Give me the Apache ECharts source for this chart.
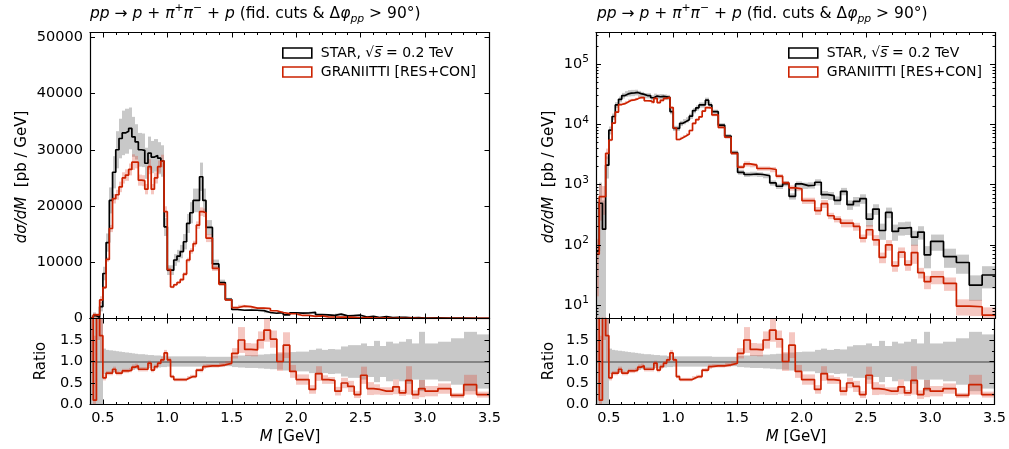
<!DOCTYPE html>
<html><head><meta charset="utf-8">
<script src="https://cdn.jsdelivr.net/npm/echarts@6/dist/echarts.min.js"></script>
<style>html,body{margin:0;padding:0;background:#fff;}#c{width:1009px;height:449px;}</style>
</head><body><div id="c"></div>
<script>
// ---------------- data ----------------
const massEdges = [0.400,0.425,0.450,0.475,0.500,0.525,0.550,0.575,0.600,0.625,0.650,0.675,0.700,0.725,0.750,0.775,0.800,0.825,0.850,0.875,0.900,0.925,0.950,0.975,1.000,1.025,1.050,1.075,1.100,1.125,1.150,1.175,1.200,1.225,1.250,1.275,1.300,1.350,1.400,1.450,1.500,1.550,1.600,1.650,1.700,1.750,1.800,1.850,1.900,1.950,2.000,2.050,2.100,2.150,2.200,2.250,2.300,2.350,2.400,2.450,2.500,2.550,2.600,2.650,2.700,2.750,2.800,2.850,2.900,2.950,3.000,3.100,3.200,3.300,3.400,3.500];

const starVals = [78,490,182,2100,
  8000,13500,21000,26000,30000,32000,33000,33300,33800,32300,31400,30000,29900,27600,29400,28700,29000,28500,28000,16300,
  8600,8600,10400,11100,11900,13650,16900,18800,21000,21000,25200,21000,
  16200,9700,6400,3400,1600,1470,1500,1470,1400,1066,938,1040,640,1026,
  962,975,1094,681,656,548,774,464,528,585,268,393,173,346,167,190,194,134,163,68,
  114,64,51,21.5,31.6];

const granVals = [70,630,630,3300,
  5500,10500,16000,21300,22000,23400,25000,25500,26500,27800,27800,24600,24500,23000,27000,23000,25000,27000,28000,19000,
  8700,5600,6000,6400,6900,7900,10400,12000,13300,16600,19000,18800,
  14300,8900,6100,3300,1950,2210,2100,1850,1850,1780,1380,1066,880,847,
  541,541,369,482,304,268,230,230,202,129,178,121,62,100,44.7,75.5,46.4,74.5,34.6,24.5,
  29.6,23,9.6,9.4,6.8];

// relative uncertainties in the upper panels
const starErr = [6,1.2,2.0,0.4,
  0.15,0.12,0.11,0.11,0.11,0.11,0.12,0.12,0.11,0.11,0.10,0.10,0.10,0.10,0.10,0.10,0.10,0.10,0.10,0.10,
  0.10,0.10,0.10,0.10,0.10,0.10,0.10,0.10,0.10,0.10,0.10,0.10,
  0.08,0.08,0.08,0.08,0.09,0.09,0.09,0.09,0.09,0.10,0.10,0.10,0.12,0.10,
  0.12,0.12,0.12,0.15,0.15,0.16,0.14,0.18,0.18,0.18,0.25,0.20,0.30,0.20,0.30,0.25,0.25,0.28,0.25,0.40,
  0.30,0.35,0.35,0.45,0.40];

const granErr = [0.8,0.6,0.5,0.2,
  0.05,0.04,0.04,0.04,0.04,0.04,0.04,0.04,0.04,0.05,0.04,0.04,0.04,0.04,0.05,0.04,0.04,0.04,0.04,0.05,
  0.04,0.04,0.04,0.04,0.04,0.04,0.04,0.04,0.04,0.04,0.04,0.04,
  0.05,0.05,0.05,0.05,0.08,0.10,0.08,0.08,0.08,0.10,0.08,0.08,0.10,0.08,
  0.12,0.12,0.15,0.15,0.12,0.12,0.15,0.15,0.15,0.15,0.20,0.20,0.20,0.20,0.20,0.20,0.20,0.35,0.20,0.25,
  0.25,0.25,0.30,0.30,0.35];

// ratio panel
const ratioVals = [2.5,0.1,3.0,1.6,
  0.62,0.73,0.73,0.82,0.73,0.73,0.78,0.78,0.80,0.87,0.90,0.82,0.82,0.82,0.96,0.80,0.88,0.96,1.04,1.20,
  1.04,0.65,0.58,0.58,0.58,0.58,0.62,0.65,0.65,0.80,0.80,0.88,
  0.90,0.90,0.92,0.96,1.19,1.50,1.28,1.27,1.50,1.73,1.52,1.00,1.38,0.77,
  0.58,0.58,0.35,0.72,0.58,0.56,0.31,0.50,0.42,0.23,0.68,0.37,0.35,0.31,0.31,0.41,0.27,0.56,0.23,0.37,
  0.31,0.37,0.21,0.46,0.23];

const ratioStarErr = [1.5,1.5,1.5,1.5,
  0.30,0.27,0.26,0.25,0.24,0.23,0.22,0.21,0.20,0.19,0.18,0.17,0.17,0.16,0.15,0.15,0.14,0.14,0.13,0.13,
  0.12,0.12,0.12,0.12,0.12,0.12,0.12,0.12,0.12,0.12,0.12,0.12,
  0.11,0.11,0.11,0.11,0.13,0.14,0.15,0.15,0.16,0.17,0.18,0.19,0.21,0.22,
  0.23,0.23,0.27,0.30,0.27,0.29,0.28,0.35,0.38,0.38,0.42,0.36,0.48,0.36,0.46,0.42,0.46,0.52,0.42,0.69,
  0.42,0.46,0.54,0.69,0.63];

const ratioGranErr = [1.5,1.5,1.5,0.6,
  0.06,0.05,0.05,0.06,0.05,0.05,0.05,0.05,0.05,0.06,0.05,0.05,0.05,0.05,0.06,0.05,0.05,0.05,0.06,0.07,
  0.05,0.04,0.04,0.04,0.04,0.04,0.04,0.04,0.04,0.04,0.05,0.05,
  0.04,0.04,0.05,0.05,0.12,0.30,0.15,0.15,0.20,0.27,0.20,0.22,0.30,0.15,
  0.12,0.12,0.10,0.17,0.10,0.08,0.10,0.12,0.13,0.08,0.20,0.15,0.12,0.09,0.09,0.17,0.07,0.33,0.10,0.20,
  0.12,0.12,0.06,0.23,0.07];

const ratioRef = 1.0;

// tick values
const xMajorTicks = [0.5,1.0,1.5,2.0,2.5,3.0,3.5];
const xMinorTicks = [0.6,0.7,0.8,0.9,1.1,1.2,1.3,1.4,1.6,1.7,1.8,1.9,2.1,2.2,2.3,2.4,2.6,2.7,2.8,2.9,3.1,3.2,3.3,3.4];
const linYTicks = [0,10000,20000,30000,40000,50000];
const logMajorTicks = [10,100,1000,10000,100000];
const logMinorTicks = [7,8,9,20,30,40,50,60,70,80,90,200,300,400,500,600,700,800,900,2000,3000,4000,5000,6000,7000,8000,9000,20000,30000,40000,50000,60000,70000,80000,90000,200000,300000];
const ratioMajorTicks = [0,0.5,1.0,1.5];
const ratioMinorTicks = [0.25,0.75,1.25,1.75];

// ---------------- chart ----------------
const FONT = 'DejaVu Sans';
const TICK_FS = 14.5, LABEL_FS = 15, TITLE_FS = 15.5, LEGEND_FS = 14;
const RED = '#cc2200', GRAY = '#c8c8c8', PINK = 'rgba(222,70,50,0.30)', REFGRAY = '#858585';

function stepLine(vals){
  const d = [];
  for (let i = 0; i < vals.length; i++){ d.push([massEdges[i], vals[i]]); d.push([massEdges[i+1], vals[i]]); }
  return d;
}
function bandRel(vals, err, floor){
  return vals.map((v,i)=>[massEdges[i], massEdges[i+1], Math.max(v*(1-err[i]), floor), v*(1+err[i])]);
}
function bandAbs(vals, err){
  return vals.map((v,i)=>[massEdges[i], massEdges[i+1], v-err[i], v+err[i]]);
}
function bandRef(err){
  return err.map((e,i)=>[massEdges[i], massEdges[i+1], ratioRef-e, ratioRef+e]);
}
function renderBand(color){
  return function(params, api){
    const a = api.coord([api.value(0), api.value(3)]);
    const b = api.coord([api.value(1), api.value(2)]);
    const cs = params.coordSys;
    const x0 = Math.round(a[0]), x1 = Math.round(b[0]);
    const r = echarts.graphic.clipRectByRect(
      {x:x0, y:a[1], width:x1-x0, height:b[1]-a[1]},
      {x:cs.x, y:cs.y, width:cs.width, height:cs.height});
    if (!r) return null;
    return {type:'rect', shape:r, style:{fill:color}};
  };
}
function band(g, data, color, z, extra){
  return Object.assign({type:'custom', xAxisIndex:4*g, yAxisIndex:4*g, silent:true, z:z,
    data:data, encode:{x:[0,1], y:[2,3]}, renderItem:renderBand(color)}, extra||{});
}
function line(g, vals, color, z){
  return {type:'line', xAxisIndex:4*g, yAxisIndex:4*g, data:stepLine(vals), symbol:'none', silent:true, z:z,
    lineStyle:{color:color, width:1.7}, itemStyle:{color:color}, clip:true};
}

const grids = [
  {left:90, top:32.5, width:399.5, height:286},
  {left:90, top:318.5, width:399.5, height:86},
  {left:596, top:32.5, width:399, height:286},
  {left:596, top:318.5, width:399, height:86}
];

const yCfg = [
  {type:'value', min:0, max:50850, major:linYTicks, minor:null, fmt:v=>String(v)},
  {type:'value', min:0, max:2, major:ratioMajorTicks, minor:ratioMinorTicks, fmt:v=>v.toFixed(1)},
  {type:'log', min:6, max:334000, major:logMajorTicks, minor:logMinorTicks, fmt:v=>'{b|10}{sup|'+Math.round(Math.log10(v))+'}'},
  {type:'value', min:0, max:2, major:ratioMajorTicks, minor:ratioMinorTicks, fmt:v=>v.toFixed(1)}
];

const labelRich = {
  b:{fontFamily:FONT, fontSize:TICK_FS, color:'#000', lineHeight:20},
  sup:{fontFamily:FONT, fontSize:10.5, color:'#000', verticalAlign:'top', lineHeight:12}
};

const xAxes = [], yAxes = [];
for (let g = 0; g < 4; g++){
  const isRatio = (g % 2 === 1);
  [['bottom',true],['bottom',false],['top',true],['top',false]].forEach(([pos,maj])=>{
    xAxes.push({gridIndex:g, type:'value', min:0.4, max:3.5, position:pos, z:10,
      axisLine:{show:maj, onZero:false, lineStyle:{color:'#000', width:1.2}},
      axisTick:{show:true, inside:true, length:maj?5:2.5, customValues:maj?xMajorTicks:xMinorTicks, lineStyle:{color:'#000', width:1}},
      axisLabel:{show:(maj && pos==='bottom' && isRatio), customValues:xMajorTicks, formatter:v=>v.toFixed(1),
        margin:6, fontFamily:FONT, fontSize:TICK_FS, color:'#000'},
      splitLine:{show:false}});
  });
  const c = yCfg[g];
  [['left',true],['left',false],['right',true],['right',false]].forEach(([pos,maj])=>{
    const ticks = maj ? c.major : c.minor;
    yAxes.push({gridIndex:g, type:c.type, min:c.min, max:c.max, position:pos, z:10,
      axisLine:{show:maj, onZero:false, lineStyle:{color:'#000', width:1.2}},
      axisTick:{show:!!ticks, inside:true, length:maj?5:2.5, customValues:ticks||[], lineStyle:{color:'#000', width:1}},
      axisLabel:{show:(maj && pos==='left'), customValues:c.major, formatter:c.fmt, margin:7,
        fontFamily:FONT, fontSize:TICK_FS, color:'#000', rich:labelRich},
      splitLine:{show:false}});
  });
}

const series = [];
[0,2].forEach(g=>{
  const floor = (g===2) ? 0.01 : 0;
  series.push(band(g, bandRel(starVals, starErr, floor), GRAY, 1));
  series.push(band(g, bandRel(granVals, granErr, floor), PINK, 2));
  series.push(line(g, starVals, '#000', 3));
  series.push(line(g, granVals, RED, 4));
});
[1,3].forEach(g=>{
  series.push(band(g, bandRef(ratioStarErr), GRAY, 1, {
    markLine:{silent:true, symbol:'none', z:5, animation:false, label:{show:false},
      lineStyle:{color:REFGRAY, width:2.2, type:'solid'}, data:[{yAxis:ratioRef}]}}));
  series.push(band(g, bandAbs(ratioVals, ratioGranErr), PINK, 6));
  series.push(line(g, ratioVals, RED, 7));
});
// legend proxies
series.push({type:'custom', name:'STAR', xAxisIndex:0, yAxisIndex:0, data:[], renderItem:()=>null,
  itemStyle:{color:'#fff', borderColor:'#000', borderWidth:1.6}});
series.push({type:'custom', name:'GRANIITTI', xAxisIndex:0, yAxisIndex:0, data:[], renderItem:()=>null,
  itemStyle:{color:'#fff', borderColor:RED, borderWidth:1.6}});

const legends = [277, 783].map(left=>({
  left:left, top:41, orient:'vertical', itemWidth:29, itemHeight:10, itemGap:5, selectedMode:false,
  data:[
    {name:'STAR', icon:'rect', itemStyle:{color:'#fff', borderColor:'#000', borderWidth:1.6}},
    {name:'GRANIITTI', icon:'rect', itemStyle:{color:'#fff', borderColor:RED, borderWidth:1.6}}
  ],
  formatter:n=> n==='STAR' ? 'STAR, √{i|s\u0305} = 0.2 TeV' : 'GRANIITTI [RES+CON]',
  textStyle:{fontFamily:FONT, fontSize:LEGEND_FS, color:'#000', padding:[0,0,0,4],
    rich:{i:{fontFamily:FONT, fontSize:LEGEND_FS, fontStyle:'italic', color:'#000'}}}
}));

function mathRich(fs){
  return {
    i:{fontFamily:FONT, fontSize:fs, fontStyle:'italic', fill:'#000', lineHeight:22},
    sup:{fontFamily:FONT, fontSize:fs*0.7, fill:'#000', verticalAlign:'top', lineHeight:12},
    sub:{fontFamily:FONT, fontSize:fs*0.7, fontStyle:'italic', fill:'#000', verticalAlign:'bottom', lineHeight:12}
  };
}
const TITLE = '{i|pp} → {i|p} + {i|π}{sup|+}{i|π}{sup|−} + {i|p} (fid. cuts & Δ{i|φ}{sub|pp} > 90°)';
function txt(x, y, text, fs, rot, align){
  return {type:'text', x:x, y:y, rotation:rot||0, silent:true, z:20,
    style:{text:text, fontFamily:FONT, fontSize:fs, fill:'#000', lineHeight:22,
      align:align||'center', verticalAlign:'middle', rich:mathRich(fs)}};
}
const graphics = [
  txt(90, 14, TITLE, TITLE_FS, 0, 'left'),
  txt(597, 14, TITLE, TITLE_FS, 0, 'left'),
  txt(22, 177, '{i|dσ/dM}  [pb / GeV]', LABEL_FS, Math.PI/2),
  txt(549, 177, '{i|dσ/dM}  [pb / GeV]', LABEL_FS, Math.PI/2),
  txt(41, 361, 'Ratio', LABEL_FS, Math.PI/2),
  txt(549, 361, 'Ratio', LABEL_FS, Math.PI/2),
  txt(290, 437, '{i|M} [GeV]', LABEL_FS),
  txt(796, 437, '{i|M} [GeV]', LABEL_FS)
];

const chart = echarts.init(document.getElementById('c'), null, {renderer:'canvas'});
chart.setOption({
  animation:false,
  backgroundColor:'#fff',
  grid:grids,
  xAxis:xAxes,
  yAxis:yAxes,
  legend:legends,
  series:series,
  graphic:graphics
});
</script>
</body></html>
